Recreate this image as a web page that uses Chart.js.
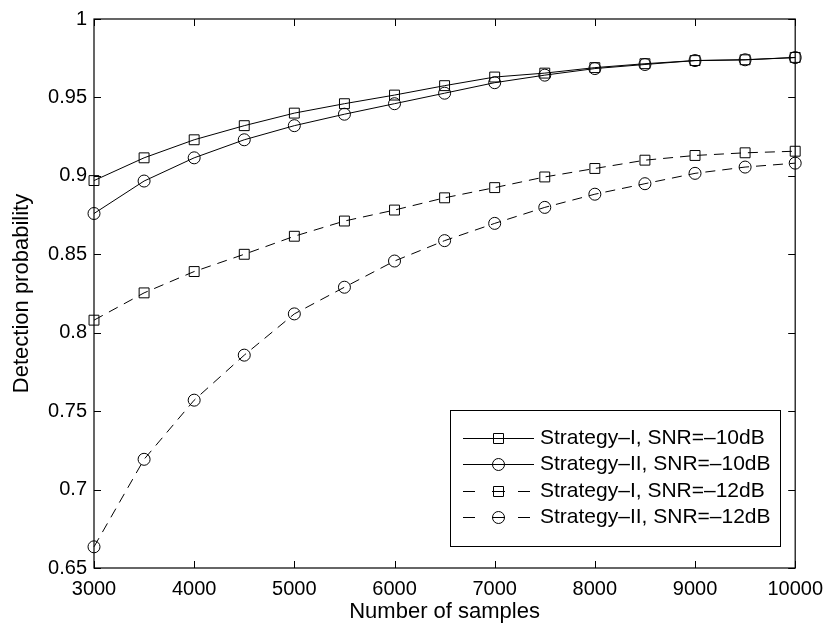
<!DOCTYPE html>
<html>
<head>
<meta charset="utf-8">
<script src="https://cdn.jsdelivr.net/npm/chart.js@4/dist/chart.umd.min.js"></script>
<style>
  html, body { margin: 0; padding: 0; background: #fff; }
  #wrap { width: 832px; height: 631px; }
</style>
</head>
<body>
<div id="wrap"><canvas id="detChart" width="832" height="631"></canvas></div>
<script>
const samples = [3000, 3500, 4000, 4500, 5000, 5500, 6000, 6500, 7000, 7500, 8000, 8500, 9000, 9500, 10000];

const strat1Snr10 = [0.897, 0.9115, 0.923, 0.932, 0.940, 0.946, 0.9515, 0.9575, 0.963, 0.9655, 0.969, 0.9715, 0.9735, 0.974, 0.9755];
const strat2Snr10 = [0.876, 0.8967, 0.9115, 0.923, 0.932, 0.9393, 0.946, 0.9527, 0.9594, 0.9642, 0.9684, 0.971, 0.9735, 0.974, 0.9754];
const strat1Snr12 = [0.808, 0.8254, 0.839, 0.850, 0.8615, 0.8712, 0.8782, 0.886, 0.8925, 0.8993, 0.9047, 0.910, 0.913, 0.9147, 0.9157];
const strat2Snr12 = [0.6635, 0.7193, 0.757, 0.7857, 0.812, 0.829, 0.8457, 0.8587, 0.8697, 0.8799, 0.8883, 0.895, 0.9016, 0.9056, 0.9081];

const seriesLabels = [
    'Strategy–I, SNR=–10dB',
    'Strategy–II, SNR=–10dB',
    'Strategy–I, SNR=–12dB',
    'Strategy–II, SNR=–12dB'
];

const xTicks = [3000, 4000, 5000, 6000, 7000, 8000, 9000, 10000];
const yTicks = [0.65, 0.7, 0.75, 0.8, 0.85, 0.9, 0.95, 1];

const toPoints = vals => vals.map((v, i) => ({ x: samples[i], y: v }));

const dashPattern = [10, 7];

function makeSet(label, vals, marker, dashed) {
    return {
        label: label,
        data: toPoints(vals),
        borderColor: '#000',
        borderWidth: 1,
        borderDash: dashed ? dashPattern : [],
        pointStyle: marker,
        pointRadius: marker === 'rect' ? 7 : 6,
        pointBorderColor: '#000',
        pointBorderWidth: 1,
        pointBackgroundColor: 'rgba(0,0,0,0)',
        tension: 0,
        fill: false,
        clip: false
    };
}

// box around the axes with inward ticks, MATLAB style
const axesBox = {
    id: 'axesBox',
    beforeDatasetsDraw(chart) {
        const { ctx, chartArea: a, scales: { x, y } } = chart;
        ctx.save();
        ctx.strokeStyle = '#000';
        ctx.lineWidth = 1.2;
        ctx.strokeRect(a.left, a.top, a.right - a.left, a.bottom - a.top);
        ctx.lineWidth = 1;
        ctx.beginPath();
        xTicks.forEach(v => {
            const px = Math.round(x.getPixelForValue(v)) + 0.5;
            ctx.moveTo(px, a.bottom); ctx.lineTo(px, a.bottom - 7);
            ctx.moveTo(px, a.top); ctx.lineTo(px, a.top + 7);
        });
        yTicks.forEach(v => {
            const py = Math.round(y.getPixelForValue(v)) + 0.5;
            ctx.moveTo(a.left, py); ctx.lineTo(a.left + 7, py);
            ctx.moveTo(a.right, py); ctx.lineTo(a.right - 7, py);
        });
        ctx.stroke();
        ctx.restore();
    }
};

function drawMarker(ctx, style, cx, cy) {
    ctx.beginPath();
    if (style === 'rect') {
        ctx.rect(cx - 5, cy - 5, 10, 10);
    } else {
        ctx.arc(cx, cy, 6, 0, Math.PI * 2);
    }
    ctx.stroke();
}

// boxed legend in the lower right corner
const boxLegend = {
    id: 'boxLegend',
    afterDraw(chart) {
        const { ctx } = chart;
        const left = 450.5, top = 410.5, w = 330, h = 136;
        const rowY = 438, rowGap = 26.3;
        ctx.save();
        ctx.fillStyle = '#fff';
        ctx.fillRect(left, top, w, h);
        ctx.strokeStyle = '#000';
        ctx.lineWidth = 1;
        ctx.strokeRect(left, top, w, h);
        chart.data.datasets.forEach((ds, i) => {
            const cy = Math.round(rowY + i * rowGap) + 0.5;
            ctx.beginPath();
            if (ds.borderDash.length) {
                ctx.moveTo(463, cy); ctx.lineTo(475, cy);
                ctx.moveTo(492, cy); ctx.lineTo(505, cy);
                ctx.moveTo(518, cy); ctx.lineTo(530, cy);
            } else {
                ctx.moveTo(463, cy); ctx.lineTo(534, cy);
            }
            ctx.stroke();
            drawMarker(ctx, ds.pointStyle, 498.5, cy);
            ctx.fillStyle = '#000';
            ctx.font = "21px 'Liberation Sans', Arial, sans-serif";
            ctx.textAlign = 'left';
            ctx.textBaseline = 'middle';
            ctx.fillText(ds.label, 540, cy);
        });
        ctx.restore();
    }
};

Chart.defaults.font.family = "'Liberation Sans', Arial, sans-serif";
Chart.defaults.font.size = 20;
Chart.defaults.color = '#000';

new Chart(document.getElementById('detChart').getContext('2d'), {
    type: 'line',
    data: {
        datasets: [
            makeSet(seriesLabels[0], strat1Snr10, 'rect', false),
            makeSet(seriesLabels[1], strat2Snr10, 'circle', false),
            makeSet(seriesLabels[2], strat1Snr12, 'rect', true),
            makeSet(seriesLabels[3], strat2Snr12, 'circle', true)
        ]
    },
    options: {
        responsive: false,
        animation: false,
        layout: { padding: { left: 0, right: 35, top: 14, bottom: 0 } },
        plugins: { legend: { display: false }, tooltip: { enabled: false } },
        scales: {
            x: {
                type: 'linear',
                min: 3000,
                max: 10000,
                afterBuildTicks: s => { s.ticks = xTicks.map(v => ({ value: v })); },
                afterFit: s => { s.height = 63; },
                grid: { display: false, drawTicks: false },
                border: { display: false },
                ticks: { padding: 9, maxRotation: 0, callback: v => String(v) },
                title: { display: true, text: 'Number of samples', font: { size: 22 }, padding: { top: 0, bottom: 6 } }
            },
            y: {
                min: 0.65,
                max: 1,
                afterBuildTicks: s => { s.ticks = yTicks.map(v => ({ value: v })); },
                afterFit: s => { s.width = 94; },
                grid: { display: false, drawTicks: false },
                border: { display: false },
                ticks: { padding: 7, callback: v => String(Number(v.toFixed(2))) },
                title: { display: true, text: 'Detection probability', font: { size: 22 }, padding: { top: 9, bottom: 0 } }
            }
        }
    },
    plugins: [axesBox, boxLegend]
});
</script>
</body>
</html>
